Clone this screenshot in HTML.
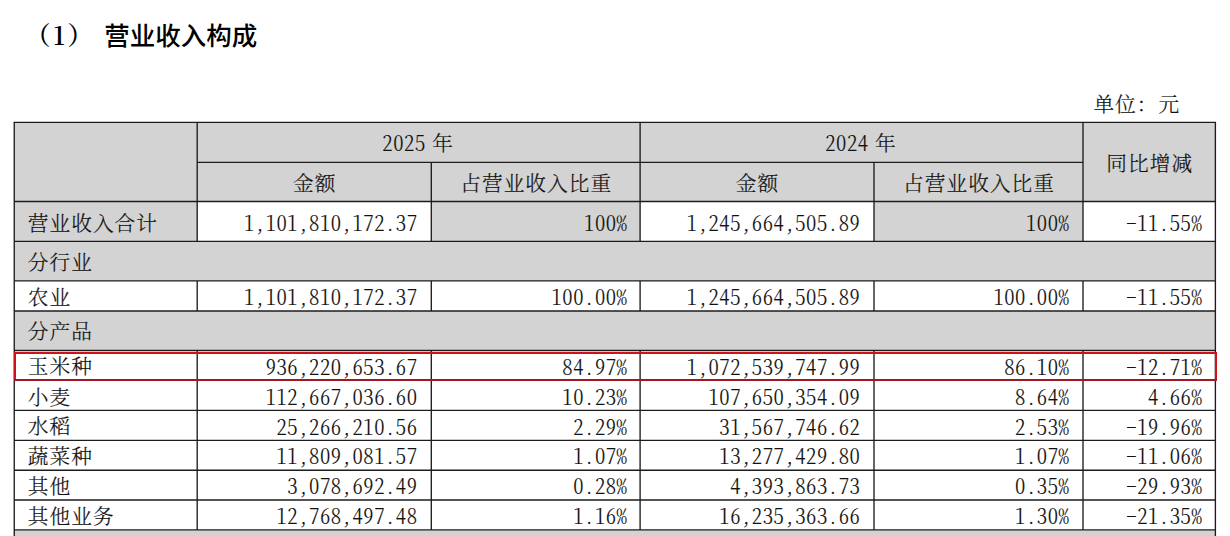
<!DOCTYPE html>
<html lang="zh-CN"><head><meta charset="utf-8"><title>营业收入构成</title>
<style>
html,body{margin:0;padding:0;background:#fff;}
body{width:1230px;height:536px;position:relative;overflow:hidden;font-family:"Liberation Serif","Noto Serif CJK SC",serif;font-size:21.7px;color:#111;}
.t{position:absolute;white-space:nowrap;font-family:"Noto Serif CJK SC","Liberation Serif",serif;font-feature-settings:"hwid";font-weight:300;font-size:20.7px;letter-spacing:1px;-webkit-text-stroke:0.18px #151515;}
.bg{position:absolute;background:#d3d3d3;}
.n{font-size:20.6px;letter-spacing:0.55px;-webkit-text-stroke-width:0.12px;}
.nf{font-feature-settings:normal;}.y{word-spacing:-4.9px;}
.l{text-align:left;}.r{text-align:right;}.c{text-align:center;}
h1{position:absolute;margin:0;left:24.9px;top:14.9px;height:38px;line-height:38px;font-size:25.5px;white-space:nowrap;font-weight:600;font-family:"Noto Serif CJK SC",serif;color:#000;}
h1 i{font-style:normal;letter-spacing:2.6px;}
h1 b{position:absolute;left:79.3px;top:0;font-family:"Noto Sans CJK SC","Liberation Sans",sans-serif;font-weight:500;}
svg{position:absolute;left:0;top:0;}
</style></head><body>
<h1><i>（1）</i> <b>营业收入构成</b></h1>
<div class="t r nf" style="left:1000px;width:180.2px;top:88.4px;height:30px;line-height:30px;">单位：元</div>
<div class="bg" style="left:14.25px;top:122.40px;width:1201.15px;height:79.10px;"></div>
<div class="bg" style="left:14.25px;top:201.50px;width:182.95px;height:39.80px;"></div>
<div class="bg" style="left:431.30px;top:201.50px;width:208.80px;height:39.80px;"></div>
<div class="bg" style="left:874.00px;top:201.50px;width:209.00px;height:39.80px;"></div>
<div class="bg" style="left:14.25px;top:241.30px;width:1201.15px;height:39.60px;"></div>
<div class="bg" style="left:14.25px;top:311.00px;width:1201.15px;height:39.50px;"></div>
<div class="bg" style="left:14.25px;top:529.90px;width:1201.15px;height:10.10px;"></div>
<div class="t c y" style="left:195.70px;width:444.90px;top:121.83px;height:40.00px;line-height:40.00px;"><span class="n">2025</span> 年</div>
<div class="t c y" style="left:638.60px;width:444.90px;top:121.83px;height:40.00px;line-height:40.00px;"><span class="n">2024</span> 年</div>
<div class="t c" style="left:1083.50px;width:132.40px;top:122.83px;height:79.10px;line-height:79.10px;">同比增减</div>
<div class="t c" style="left:197.70px;width:234.10px;top:162.83px;height:39.10px;line-height:39.10px;">金额</div>
<div class="t c" style="left:431.80px;width:208.80px;top:162.83px;height:39.10px;line-height:39.10px;">占营业收入比重</div>
<div class="t c" style="left:640.60px;width:233.90px;top:162.83px;height:39.10px;line-height:39.10px;">金额</div>
<div class="t c" style="left:874.50px;width:209.00px;top:162.83px;height:39.10px;line-height:39.10px;">占营业收入比重</div>
<div class="t l" style="left:27.85px;width:169.35px;top:202.73px;height:39.80px;line-height:39.80px;">营业收入合计</div>
<div class="t r n" style="left:197.20px;width:220.35px;top:207.32px;height:30.00px;line-height:30.00px;">1,101,810,172.37</div>
<div class="t r n" style="left:431.30px;width:196.15px;top:207.32px;height:30.00px;line-height:30.00px;">100%</div>
<div class="t r n" style="left:640.10px;width:220.25px;top:207.32px;height:30.00px;line-height:30.00px;">1,245,664,505.89</div>
<div class="t r n" style="left:874.00px;width:195.35px;top:207.32px;height:30.00px;line-height:30.00px;">100%</div>
<div class="t r n" style="left:1083.00px;width:119.25px;top:207.32px;height:30.00px;line-height:30.00px;">-11.55%</div>
<div class="t l" style="left:27.85px;width:169.35px;top:241.73px;height:39.60px;line-height:39.60px;">分行业</div>
<div class="t l" style="left:27.85px;width:169.35px;top:281.33px;height:30.10px;line-height:30.10px;">农业</div>
<div class="t r n" style="left:197.20px;width:220.35px;top:281.22px;height:30.00px;line-height:30.00px;">1,101,810,172.37</div>
<div class="t r n" style="left:431.30px;width:196.15px;top:281.22px;height:30.00px;line-height:30.00px;">100.00%</div>
<div class="t r n" style="left:640.10px;width:220.25px;top:281.22px;height:30.00px;line-height:30.00px;">1,245,664,505.89</div>
<div class="t r n" style="left:874.00px;width:195.35px;top:281.22px;height:30.00px;line-height:30.00px;">100.00%</div>
<div class="t r n" style="left:1083.00px;width:119.25px;top:281.22px;height:30.00px;line-height:30.00px;">-11.55%</div>
<div class="t l" style="left:27.85px;width:169.35px;top:311.43px;height:39.50px;line-height:39.50px;">分产品</div>
<div class="t l" style="left:27.85px;width:169.35px;top:350.93px;height:29.80px;line-height:29.80px;">玉米种</div>
<div class="t r n" style="left:197.20px;width:220.35px;top:350.72px;height:30.00px;line-height:30.00px;">936,220,653.67</div>
<div class="t r n" style="left:431.30px;width:196.15px;top:350.72px;height:30.00px;line-height:30.00px;">84.97%</div>
<div class="t r n" style="left:640.10px;width:220.25px;top:350.72px;height:30.00px;line-height:30.00px;">1,072,539,747.99</div>
<div class="t r n" style="left:874.00px;width:195.35px;top:350.72px;height:30.00px;line-height:30.00px;">86.10%</div>
<div class="t r n" style="left:1083.00px;width:119.25px;top:350.72px;height:30.00px;line-height:30.00px;">-12.71%</div>
<div class="t l" style="left:27.85px;width:169.35px;top:380.73px;height:30.10px;line-height:30.10px;">小麦</div>
<div class="t r n" style="left:197.20px;width:220.35px;top:380.62px;height:30.00px;line-height:30.00px;">112,667,036.60</div>
<div class="t r n" style="left:431.30px;width:196.15px;top:380.62px;height:30.00px;line-height:30.00px;">10.23%</div>
<div class="t r n" style="left:640.10px;width:220.25px;top:380.62px;height:30.00px;line-height:30.00px;">107,650,354.09</div>
<div class="t r n" style="left:874.00px;width:195.35px;top:380.62px;height:30.00px;line-height:30.00px;">8.64%</div>
<div class="t r n" style="left:1083.00px;width:119.25px;top:380.62px;height:30.00px;line-height:30.00px;">4.66%</div>
<div class="t l" style="left:27.85px;width:169.35px;top:410.83px;height:29.95px;line-height:29.95px;">水稻</div>
<div class="t r n" style="left:197.20px;width:220.35px;top:410.52px;height:30.00px;line-height:30.00px;">25,266,210.56</div>
<div class="t r n" style="left:431.30px;width:196.15px;top:410.52px;height:30.00px;line-height:30.00px;">2.29%</div>
<div class="t r n" style="left:640.10px;width:220.25px;top:410.52px;height:30.00px;line-height:30.00px;">31,567,746.62</div>
<div class="t r n" style="left:874.00px;width:195.35px;top:410.52px;height:30.00px;line-height:30.00px;">2.53%</div>
<div class="t r n" style="left:1083.00px;width:119.25px;top:410.52px;height:30.00px;line-height:30.00px;">-19.96%</div>
<div class="t l" style="left:27.85px;width:169.35px;top:440.78px;height:29.85px;line-height:29.85px;">蔬菜种</div>
<div class="t r n" style="left:197.20px;width:220.35px;top:440.42px;height:30.00px;line-height:30.00px;">11,809,081.57</div>
<div class="t r n" style="left:431.30px;width:196.15px;top:440.42px;height:30.00px;line-height:30.00px;">1.07%</div>
<div class="t r n" style="left:640.10px;width:220.25px;top:440.42px;height:30.00px;line-height:30.00px;">13,277,429.80</div>
<div class="t r n" style="left:874.00px;width:195.35px;top:440.42px;height:30.00px;line-height:30.00px;">1.07%</div>
<div class="t r n" style="left:1083.00px;width:119.25px;top:440.42px;height:30.00px;line-height:30.00px;">-11.06%</div>
<div class="t l" style="left:27.85px;width:169.35px;top:470.63px;height:29.80px;line-height:29.80px;">其他</div>
<div class="t r n" style="left:197.20px;width:220.35px;top:470.32px;height:30.00px;line-height:30.00px;">3,078,692.49</div>
<div class="t r n" style="left:431.30px;width:196.15px;top:470.32px;height:30.00px;line-height:30.00px;">0.28%</div>
<div class="t r n" style="left:640.10px;width:220.25px;top:470.32px;height:30.00px;line-height:30.00px;">4,393,863.73</div>
<div class="t r n" style="left:874.00px;width:195.35px;top:470.32px;height:30.00px;line-height:30.00px;">0.35%</div>
<div class="t r n" style="left:1083.00px;width:119.25px;top:470.32px;height:30.00px;line-height:30.00px;">-29.93%</div>
<div class="t l" style="left:27.85px;width:169.35px;top:501.33px;height:29.90px;line-height:29.90px;">其他业务</div>
<div class="t r n" style="left:197.20px;width:220.35px;top:500.12px;height:30.00px;line-height:30.00px;">12,768,497.48</div>
<div class="t r n" style="left:431.30px;width:196.15px;top:500.12px;height:30.00px;line-height:30.00px;">1.16%</div>
<div class="t r n" style="left:640.10px;width:220.25px;top:500.12px;height:30.00px;line-height:30.00px;">16,235,363.66</div>
<div class="t r n" style="left:874.00px;width:195.35px;top:500.12px;height:30.00px;line-height:30.00px;">1.30%</div>
<div class="t r n" style="left:1083.00px;width:119.25px;top:500.12px;height:30.00px;line-height:30.00px;">-21.35%</div>
<svg width="1230" height="536" viewBox="0 0 1230 536" fill="none" stroke="#1c1c1c" stroke-width="1.35">
<line x1="13.57" y1="122.40" x2="1216.08" y2="122.40"/>
<line x1="197.20" y1="162.40" x2="1083.00" y2="162.40"/>
<line x1="14.25" y1="201.50" x2="1215.40" y2="201.50"/>
<line x1="14.25" y1="241.30" x2="1215.40" y2="241.30"/>
<line x1="14.25" y1="280.90" x2="1215.40" y2="280.90"/>
<line x1="14.25" y1="311.00" x2="1215.40" y2="311.00"/>
<line x1="14.25" y1="350.50" x2="1215.40" y2="350.50"/>
<line x1="14.25" y1="380.30" x2="1215.40" y2="380.30"/>
<line x1="14.25" y1="410.40" x2="1215.40" y2="410.40"/>
<line x1="14.25" y1="440.35" x2="1215.40" y2="440.35"/>
<line x1="14.25" y1="470.20" x2="1215.40" y2="470.20"/>
<line x1="14.25" y1="500.00" x2="1215.40" y2="500.00"/>
<line x1="14.25" y1="529.90" x2="1215.40" y2="529.90"/>
<line x1="14.25" y1="122.40" x2="14.25" y2="540.00"/>
<line x1="1215.40" y1="122.40" x2="1215.40" y2="540.00"/>
<line x1="197.20" y1="122.40" x2="197.20" y2="241.30"/>
<line x1="197.20" y1="280.90" x2="197.20" y2="311.00"/>
<line x1="197.20" y1="350.50" x2="197.20" y2="529.90"/>
<line x1="640.10" y1="122.40" x2="640.10" y2="241.30"/>
<line x1="640.10" y1="280.90" x2="640.10" y2="311.00"/>
<line x1="640.10" y1="350.50" x2="640.10" y2="529.90"/>
<line x1="1083.00" y1="122.40" x2="1083.00" y2="241.30"/>
<line x1="1083.00" y1="280.90" x2="1083.00" y2="311.00"/>
<line x1="1083.00" y1="350.50" x2="1083.00" y2="529.90"/>
<line x1="431.30" y1="162.40" x2="431.30" y2="241.30"/>
<line x1="431.30" y1="280.90" x2="431.30" y2="311.00"/>
<line x1="431.30" y1="350.50" x2="431.30" y2="529.90"/>
<line x1="874.00" y1="162.40" x2="874.00" y2="241.30"/>
<line x1="874.00" y1="280.90" x2="874.00" y2="311.00"/>
<line x1="874.00" y1="350.50" x2="874.00" y2="529.90"/>
<path d="M15 381V353H1216V381" stroke="#cf1219" stroke-width="2"/>
<path d="M14 380H1217" stroke="#a01822" stroke-width="2.2"/>
</svg>
</body></html>
